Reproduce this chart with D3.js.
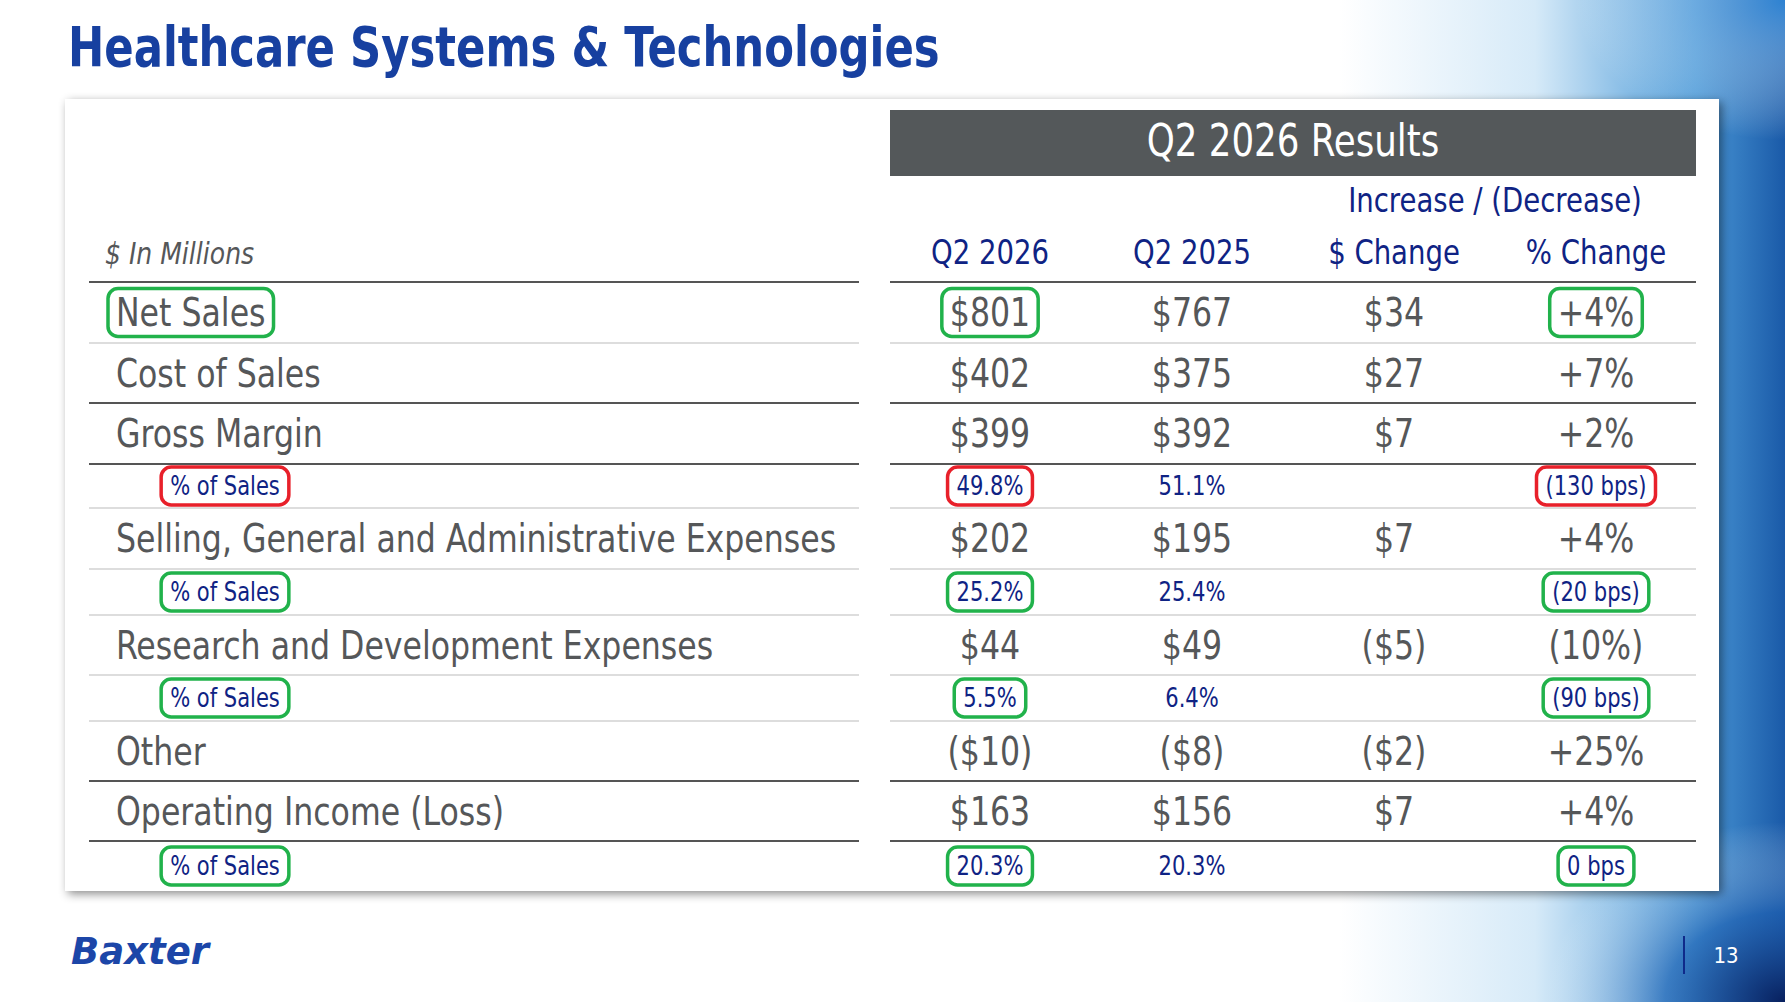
<!DOCTYPE html>
<html>
<head>
<meta charset="utf-8">
<script src="https://cdn.jsdelivr.net/npm/d3@7"></script>
<style>
  body { margin: 0; background: #fff; }
  svg { display: block; }
</style>
</head>
<body>
<svg id="chart" width="1785" height="1002"></svg>
<script>
// Table data
var rowLabels = ["Net Sales", "Cost of Sales", "Gross Margin", "% of Sales",
  "Selling, General and Administrative Expenses", "% of Sales",
  "Research and Development Expenses", "% of Sales", "Other",
  "Operating Income (Loss)", "% of Sales"];
var q2026 = ["$801", "$402", "$399", "49.8%", "$202", "25.2%", "$44", "5.5%", "($10)", "$163", "20.3%"];
var q2025 = ["$767", "$375", "$392", "51.1%", "$195", "25.4%", "$49", "6.4%", "($8)", "$156", "20.3%"];
var dollarChange = ["$34", "$27", "$7", "", "$7", "", "($5)", "", "($2)", "$7", ""];
var pctChange = ["+4%", "+7%", "+2%", "(130 bps)", "+4%", "(20 bps)", "(10%)", "(90 bps)", "+25%", "+4%", "0 bps"];
var isSub = [false, false, false, true, false, true, false, true, false, false, true];
// highlight colour per row: g = green, r = red, "" = none (label, q2026, pct)
var highlight = ["g", "", "", "r", "", "g", "", "g", "", "", "g"];
var columns = ["Q2 2026", "Q2 2025", "$ Change", "% Change"];
// row boundary lines: y position in slide, dark or light
var lineY = [282, 343, 403, 464, 508, 569, 615, 675, 721, 781, 841];
var lineDark = [true, false, true, true, false, false, false, false, false, true, true];
var cardBottom = 891;

var font = "'Liberation Sans Narrow', 'DejaVu Sans Condensed', 'Open Sans', sans-serif";
var blue = "#0f2384", gray = "#555759";
var colors = { g: "#21b24b", r: "#e8202a" };

var svg = d3.select("#chart");
var defs = svg.append("defs");

// squeeze text horizontally to look like the condensed slide font
function squeeze(sel, k) {
  var n = sel.node();
  var w = n.getComputedTextLength();
  if (w > 0) sel.attr("textLength", w * k).attr("lengthAdjust", "spacingAndGlyphs");
  return sel;
}

// background swirl
var bg = defs.append("linearGradient").attr("id", "bg").attr("x1", "0").attr("x2", "1").attr("y1", "0").attr("y2", "0");
bg.append("stop").attr("offset", "0").attr("stop-color", "#fff");
bg.append("stop").attr("offset", "0.75").attr("stop-color", "#fff");
bg.append("stop").attr("offset", "0.86").attr("stop-color", "#d6eaf8");
bg.append("stop").attr("offset", "0.95").attr("stop-color", "#4c9ad8");
bg.append("stop").attr("offset", "1").attr("stop-color", "#1a5aa8");
svg.append("rect").attr("width", 1785).attr("height", 1002).attr("fill", "url(#bg)");
var bot = defs.append("radialGradient").attr("id", "bot").attr("cx", "1").attr("cy", "1").attr("r", "0.6");
bot.append("stop").attr("offset", "0").attr("stop-color", "#08205e").attr("stop-opacity", 1);
bot.append("stop").attr("offset", "0.5").attr("stop-color", "#1f5fb0").attr("stop-opacity", 0.6);
bot.append("stop").attr("offset", "1").attr("stop-color", "#ffffff").attr("stop-opacity", 0);
svg.append("rect").attr("x", 1385).attr("y", 702).attr("width", 400).attr("height", 300).attr("fill", "url(#bot)");
var topGrad = defs.append("radialGradient").attr("id", "topg").attr("cx", "1").attr("cy", "0").attr("r", "0.7");
topGrad.append("stop").attr("offset", "0").attr("stop-color", "#2f86d6").attr("stop-opacity", 0.9);
topGrad.append("stop").attr("offset", "1").attr("stop-color", "#ffffff").attr("stop-opacity", 0);
svg.append("rect").attr("x", 1485).attr("y", 0).attr("width", 300).attr("height", 200).attr("fill", "url(#topg)");

// title
squeeze(svg.append("text").attr("x", 68).attr("y", 66).attr("font-family", font).attr("font-weight", "bold")
  .attr("font-size", 56).attr("fill", "#1740a0").text("Healthcare Systems & Technologies"), 0.86);

// card with shadow
var sh = defs.append("filter").attr("id", "sh").attr("x", "-5%").attr("y", "-5%").attr("width", "110%").attr("height", "110%");
sh.append("feDropShadow").attr("dx", 3).attr("dy", 3).attr("stdDeviation", 5).attr("flood-color", "#000").attr("flood-opacity", 0.45);
svg.append("rect").attr("x", 65).attr("y", 99).attr("width", 1654).attr("height", cardBottom - 99)
  .attr("fill", "#fff").attr("filter", "url(#sh)");

// column scale
var x = d3.scalePoint().domain(columns).range([990, 1596]);
var leftX = [89, 859], rightX = [890, 1696];

svg.append("rect").attr("x", 890).attr("y", 110).attr("width", 806).attr("height", 66).attr("fill", "#54585a");
squeeze(svg.append("text").attr("x", 1293).attr("y", 156).attr("text-anchor", "middle").attr("font-family", font)
  .attr("font-size", 44).attr("fill", "#fff").text("Q2 2026 Results"), 0.9);
squeeze(svg.append("text").attr("x", (x("$ Change") + x("% Change")) / 2).attr("y", 212).attr("text-anchor", "middle")
  .attr("font-family", font).attr("font-size", 34).attr("fill", blue).text("Increase / (Decrease)"), 0.9);
svg.selectAll(".colhead").data(columns).enter().append("text")
  .attr("x", d => x(d)).attr("y", 264).attr("text-anchor", "middle").attr("font-family", font)
  .attr("font-size", 34).attr("fill", blue).text(d => d)
  .each(function() { squeeze(d3.select(this), 0.9); });
squeeze(svg.append("text").attr("x", 105).attr("y", 264).attr("font-family", font).attr("font-style", "italic")
  .attr("font-size", 31).attr("fill", gray).text("$ In Millions"), 0.9);

// lines
lineY.forEach(function(y, i) {
  [leftX, rightX].forEach(function(r) {
    svg.append("line").attr("x1", r[0]).attr("x2", r[1]).attr("y1", y).attr("y2", y)
      .attr("stroke", lineDark[i] ? "#555" : "#ddd").attr("stroke-width", 2);
  });
});

var rowMid = lineY.map((y, i) => (y + (i + 1 < lineY.length ? lineY[i + 1] : cardBottom)) / 2);

function addCell(tx, cx, cy, sub, anchor, col, hl) {
  var t = svg.append("text").attr("x", cx).attr("y", cy).attr("dy", "0.35em").attr("text-anchor", anchor)
    .attr("font-family", font).attr("font-size", sub ? 26 : 39).attr("fill", sub ? blue : col).text(tx);
  squeeze(t, 0.9);
  if (hl && tx) {
    var b = t.node().getBBox();
    var px = sub ? 9 : 8;
    svg.append("rect").attr("x", b.x - px).attr("y", cy - (sub ? 19 : 24)).attr("width", b.width + 2 * px)
      .attr("height", sub ? 38 : 48).attr("rx", 10).attr("fill", "none")
      .attr("stroke", colors[hl]).attr("stroke-width", 3.5);
  }
}

rowLabels.forEach(function(lab, i) {
  var cy = rowMid[i];
  if (isSub[i]) addCell(lab, 225, cy, true, "middle", blue, highlight[i]);
  else addCell(lab, 116, cy, false, "start", gray, highlight[i]);
  addCell(q2026[i], x("Q2 2026"), cy, isSub[i], "middle", gray, highlight[i]);
  addCell(q2025[i], x("Q2 2025"), cy, isSub[i], "middle", gray, "");
  addCell(dollarChange[i], x("$ Change"), cy, isSub[i], "middle", gray, "");
  addCell(pctChange[i], x("% Change"), cy, isSub[i], "middle", gray, highlight[i]);
});

// footer
svg.append("text").attr("x", 71).attr("y", 964).attr("font-family", "'DejaVu Sans', sans-serif")
  .attr("font-weight", "bold").attr("font-style", "italic").attr("font-size", 37).attr("fill", "#1c46a8").text("Baxter");
svg.append("line").attr("x1", 1684).attr("x2", 1684).attr("y1", 936).attr("y2", 974).attr("stroke", "#0f2a8a").attr("stroke-width", 2);
svg.append("text").attr("x", 1726).attr("y", 963).attr("text-anchor", "middle").attr("font-family", font)
  .attr("font-size", 22).attr("fill", "#fff").text("13");
</script>
</body>
</html>
